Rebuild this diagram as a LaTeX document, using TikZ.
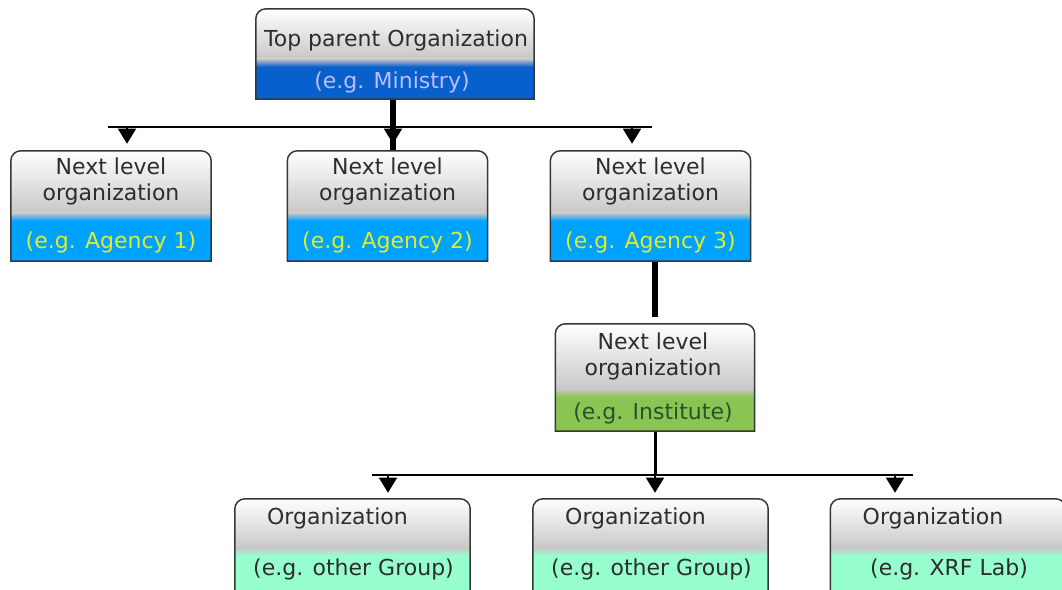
\documentclass[tikz,border=0pt]{standalone}
\usepackage{fontspec}
\setmainfont{DejaVu Sans}
\usetikzlibrary{positioning, calc, arrows.meta}
\definecolor{edgegray}{RGB}{55,55,55}
\definecolor{boxgray}{RGB}{200,200,200}
\definecolor{inkgray}{RGB}{45,45,45}
\definecolor{ministryblue}{RGB}{8,96,204}
\definecolor{ministrytext}{RGB}{188,188,255}
\definecolor{agencyblue}{RGB}{0,162,255}
\definecolor{agencytext}{RGB}{228,236,40}
\definecolor{institutegreen}{RGB}{138,196,82}
\definecolor{institutetext}{RGB}{36,84,44}
\definecolor{groupmint}{RGB}{150,255,205}

% outline of a box: rounded top, square bottom
\newcommand{\orgrim}{(bsw) -- ([yshift=-7.5pt]bnw) arc[start angle=180, end angle=90, radius=7.5pt]
  -- ([xshift=-7.5pt]bne) arc[start angle=90, end angle=0, radius=7.5pt] -- (bse) -- cycle}

\tikzset{
  band/.code={\colorlet{bandcol}{#1}},
  grayh/.store in=\grayh, grayh=37.5pt,
  orgbox/.style={inner sep=0pt,
    path picture={
      \coordinate (bsw) at ([shift={(0.6pt,0.6pt)}]path picture bounding box.south west);
      \coordinate (bne) at ([shift={(-0.6pt,-0.6pt)}]path picture bounding box.north east);
      \coordinate (bnw) at (bsw |- bne);
      \coordinate (bse) at (bne |- bsw);
      \begin{scope}
        \clip \orgrim;
        \shade[top color=white, bottom color=boxgray] (bnw) rectangle ([yshift=-\grayh]bne);
        \shade[top color=boxgray, bottom color=bandcol] ([yshift=-\grayh]bnw) rectangle ([yshift=-\grayh-6pt]bne);
        \fill[bandcol] ([yshift=-\grayh-6pt]bnw) rectangle (bse);
      \end{scope}
      \draw[edgegray, line width=1.1pt] \orgrim;
    }},
  topbox/.style={orgbox, minimum width=210pt, minimum height=69pt, band=ministryblue, grayh=37.5pt},
  agencybox/.style={orgbox, minimum width=151.5pt, minimum height=84pt, band=agencyblue, grayh=46.5pt},
  institutebox/.style={orgbox, minimum width=150.75pt, minimum height=81.75pt, band=institutegreen, grayh=48.75pt},
  groupbox/.style={orgbox, minimum width=177.75pt, minimum height=82.5pt, band=groupmint, grayh=36.75pt},
  title/.style={inner sep=0pt, align=center, text=inkgray, font=\fontsize{16.5}{19.5}\selectfont},
  eg/.style={inner sep=0pt, font=\fontsize{16.5}{19.5}\selectfont},
  rail/.style={line width=2pt},
  stem/.style={line width=4.5pt},
  drop/.style={line width=1pt, -{Triangle[length=11.25pt, width=13.5pt]}, shorten >=4.5pt},
}

\begin{document}
\begin{tikzpicture}[x=0.75pt, y=0.75pt]
\useasboundingbox (0,0) rectangle (1062,-589);

% boxes
\node[topbox] (top) at (395,-54) {};
\node[agencybox] (b1) at (111,-206) {};
\node[agencybox] (b2) at (387.5,-206) {};
\node[agencybox] (b3) at (650.5,-206) {};
\node[institutebox] (b4) at (655,-377.5) {};
\node[groupbox] (g1) at (352.5,-553) {};
\node[groupbox] (g2) at (650.5,-553) {};
\node[groupbox] (g3) at (948,-553) {};

% texts
\node[title] (top-t) at ($(top.north)+(1,-33)$) {Top parent Organization};
\node[eg, text=ministrytext] (top-e) at ($(top.south)+(-3,18)$) {(e.g. Ministry)};
\foreach \b/\n in {b1/1, b2/2, b3/3} {
  \node[title] (\b-t) at ($(\b.north)+(0,-32)$) {Next level\\organization};
  \node[eg, text=agencytext] (\b-e) at ($(\b.south)+(0,20)$) {(e.g. Agency \n)};
}
\node[title] (b4-t) at ($(b4.north)+(-2,-34)$) {Next level\\organization};
\node[eg, text=institutetext] (b4-e) at ($(b4.south)+(-2,19)$) {(e.g. Institute)};
\foreach \g/\n in {g1/other Group, g2/other Group, g3/XRF Lab} {
  \node[title] (\g-t) at ($(\g.north)+(-15,-21)$) {Organization};
  \node[eg, text=inkgray] (\g-e) at ($(\g.north)+(1,-72)$) {(e.g. \n)};
}

% first level connectors
\coordinate (railL) at (108,-127);
\coordinate (railR) at (652,-127);
\coordinate (d1) at (127,-127);
\coordinate (d2) at (393,-127);
\coordinate (d3) at (632,-127);
\draw[rail] (railL) -- (railR);
\draw[stem] (d2 |- top.south) -- (d2 |- b2.north);
\foreach \d/\b in {d1/b1, d2/b2, d3/b3}
  \draw[drop] (\d) -- (\d |- \b.north);

% agency 3 to institute
\draw[line width=4pt] (b4.north |- b3.south) -- ([yshift=4.5pt]b4.north);

% second level connectors
\coordinate (rail2L) at (372,-475);
\coordinate (rail2R) at (913,-475);
\coordinate (e1) at (388,-475);
\coordinate (e2) at (655,-475);
\coordinate (e3) at (895,-475);
\draw[rail] (rail2L) -- (rail2R);
\draw[line width=2.25pt] (b4.south) -- (b4.south |- e2);
\foreach \d/\b in {e1/g1, e2/g2, e3/g3}
  \draw[drop, shorten >=3.75pt] (\d) -- (\d |- \b.north);
\end{tikzpicture}
\end{document}
